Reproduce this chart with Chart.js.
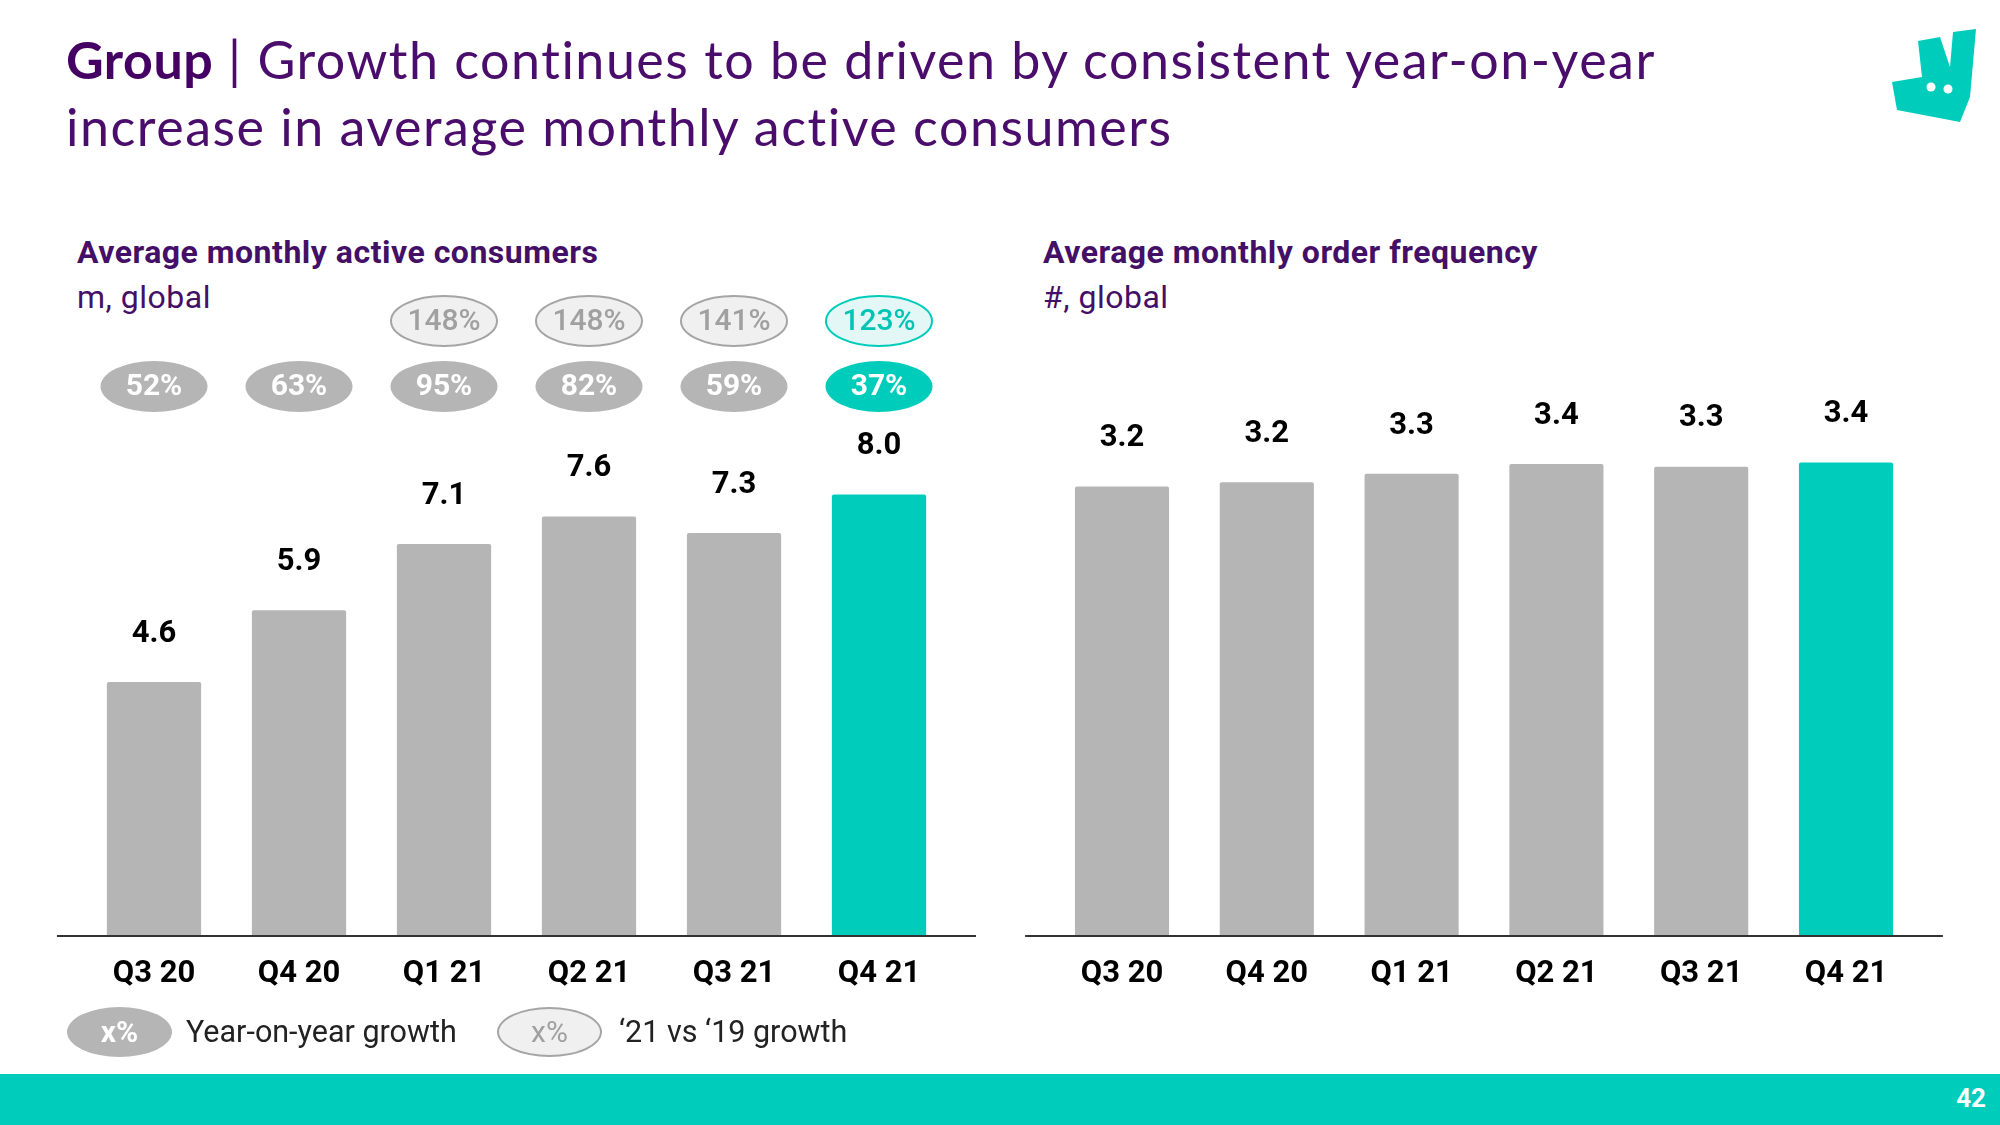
<!DOCTYPE html>
<html>
<head>
<meta charset="utf-8">
<script src="https://cdn.jsdelivr.net/npm/chart.js@4.4.1/dist/chart.umd.min.js"></script>
<style>
  html, body { margin: 0; padding: 0; }
  body { width: 2000px; height: 1125px; position: relative; overflow: hidden; background: #fff; font-family: Roboto, sans-serif; }
  .title { position: absolute; left: 66px; top: 26px; font-family: Lato, sans-serif; font-size: 52px; line-height: 67px; letter-spacing: 1.5px; font-variant-ligatures: none; color: #4a0d6b; white-space: nowrap; }
  .title b { font-weight: 700; color: #440063; letter-spacing: 0.5px; }
  .sub { position: absolute; font-size: 32px; line-height: 36px; letter-spacing: 0.5px; color: #440f66; white-space: nowrap; }
  .sub.bold { font-weight: 700; }
  canvas { position: absolute; top: 150px; }
  .pill { position: absolute; width: 105px; height: 50px; border-radius: 50%; box-sizing: border-box; text-align: center; line-height: 50px; font-size: 30px; }
  .legend-text { position: absolute; font-size: 30.5px; line-height: 36px; color: #222; white-space: nowrap; }
  .footer { position: absolute; left: 0; top: 1074px; width: 2000px; height: 51px; background: #00ccbc; }
  .page { position: absolute; right: 14px; top: 1083px; color: #fff; font-weight: 700; font-size: 26px; line-height: 30px; }
  .logo { position: absolute; left: 0; top: 0; }
</style>
</head>
<body>
<div class="title"><b>Group</b> | Growth continues to be driven by consistent year-on-year<br>increase in average monthly active consumers</div>

<svg class="logo" width="2000" height="140">
  <polygon points="1918,41 1940,37 1950,67 1953,32 1976,29 1970,97 1960,122 1897,110 1892,82 1922,77" fill="#00ccbc"/>
  <circle cx="1931" cy="87" r="4.5" fill="#fff"/>
  <circle cx="1948" cy="89" r="4.5" fill="#fff"/>
</svg>

<div class="sub bold" style="left:77px; top:234px;">Average monthly active consumers</div>
<div class="sub" style="left:77px; top:279px;">m, global</div>
<div class="sub bold" style="left:1043px; top:234px;">Average monthly order frequency</div>
<div class="sub" style="left:1043px; top:279px;">#, global</div>

<canvas id="consumersChart" width="1000" height="900" style="left:0px;"></canvas>
<canvas id="frequencyChart" width="1000" height="900" style="left:1000px;"></canvas>

<div class="pill" style="left:67px; top:1007px; background:#b5b5b5; color:#fff; font-weight:700;">x%</div>
<div class="legend-text" style="left:186px; top:1014px;">Year-on-year growth</div>
<div class="pill" style="left:497px; top:1007px; background:#f0f0f0; border:2px solid #a5a5a5; color:#a0a0a0; line-height:46px;">x%</div>
<div class="legend-text" style="left:619px; top:1014px;">‘21 vs ‘19 growth</div>

<div class="footer"></div>
<div class="page">42</div>

<script>
const quarters = ['Q3 20', 'Q4 20', 'Q1 21', 'Q2 21', 'Q3 21', 'Q4 21'];
const activeConsumers = [4.6, 5.9, 7.1, 7.6, 7.3, 8.0];
const orderFrequency = [3.2, 3.23, 3.29, 3.36, 3.34, 3.37];
const yoyGrowth = ['52%', '63%', '95%', '82%', '59%', '37%'];
const vs19Growth = [null, null, '148%', '148%', '141%', '123%'];

const GREY = '#b5b5b5';
const TEAL = '#00ccbc';
const barColors = quarters.map((q, i) => i === quarters.length - 1 ? TEAL : GREY);

function ellipse(ctx, x, y, w, h) {
  ctx.beginPath();
  ctx.ellipse(x, y, w / 2, h / 2, 0, 0, Math.PI * 2);
}

// baseline, value labels, category labels and growth pills
const decor = {
  id: 'decor',
  afterDatasetsDraw(chart, args, opts) {
    const ctx = chart.ctx;
    const area = chart.chartArea;
    const yScale = chart.scales.y;
    const xScale = chart.scales.x;
    const base = yScale.getPixelForValue(0);
    const bars = chart.getDatasetMeta(0).data;
    const values = chart.data.datasets[0].data;
    const last = values.length - 1;

    ctx.save();
    ctx.strokeStyle = '#333';
    ctx.lineWidth = 2;
    ctx.beginPath();
    ctx.moveTo(area.left - 24.5, base);
    ctx.lineTo(area.right + 24.5, base);
    ctx.stroke();

    ctx.textAlign = 'center';
    ctx.textBaseline = 'middle';
    ctx.fillStyle = '#000';
    ctx.font = 'bold 31px Roboto';
    bars.forEach((bar, i) => {
      ctx.fillText(values[i].toFixed(1), bar.x, bar.y - 48);
    });

    ctx.font = 'bold 31px Roboto';
    chart.data.labels.forEach((lab, i) => {
      ctx.fillText(lab, xScale.getPixelForValue(i), base + 38);
    });

    if (opts.yoy) {
      opts.yoy.forEach((txt, i) => {
        const x = xScale.getPixelForValue(i);
        ellipse(ctx, x, opts.yoyY, 107, 51);
        ctx.fillStyle = i === last ? TEAL : GREY;
        ctx.fill();
        ctx.fillStyle = '#fff';
        ctx.font = 'bold 30px Roboto';
        ctx.fillText(txt, x, opts.yoyY + 1);
      });
    }
    if (opts.vs19) {
      opts.vs19.forEach((txt, i) => {
        if (!txt) return;
        const x = xScale.getPixelForValue(i);
        ellipse(ctx, x, opts.vs19Y, 106, 50);
        ctx.fillStyle = i === last ? '#e3f8f6' : '#f0f0f0';
        ctx.fill();
        ctx.lineWidth = 2;
        ctx.strokeStyle = i === last ? TEAL : '#a5a5a5';
        ctx.stroke();
        ctx.fillStyle = i === last ? '#00c4b4' : '#a0a0a0';
        ctx.font = '500 30px Roboto';
        ctx.fillText(txt, x, opts.vs19Y + 1);
      });
    }
    ctx.restore();
  }
};

function makeChart(id, values, yMax, padding, decorOpts) {
  return new Chart(document.getElementById(id), {
    type: 'bar',
    data: {
      labels: quarters,
      datasets: [{
        data: values,
        backgroundColor: barColors,
        borderRadius: 2,
        categoryPercentage: 1,
        barPercentage: 0.65
      }]
    },
    options: {
      responsive: false,
      animation: false,
      devicePixelRatio: 1,
      layout: { padding: padding },
      plugins: {
        legend: { display: false },
        tooltip: { enabled: false },
        decor: decorOpts
      },
      scales: {
        x: { display: false },
        y: { display: false, min: 0, max: yMax }
      }
    },
    plugins: [decor]
  });
}

makeChart('consumersChart', activeConsumers, 10,
  { left: 81.5, right: 48.5, top: 234, bottom: 114 },
  { yoy: yoyGrowth, yoyY: 236.5, vs19: vs19Growth, vs19Y: 171 });

makeChart('frequencyChart', orderFrequency, 4,
  { left: 49.6, right: 81.6, top: 224, bottom: 114 },
  {});
</script>
</body>
</html>
